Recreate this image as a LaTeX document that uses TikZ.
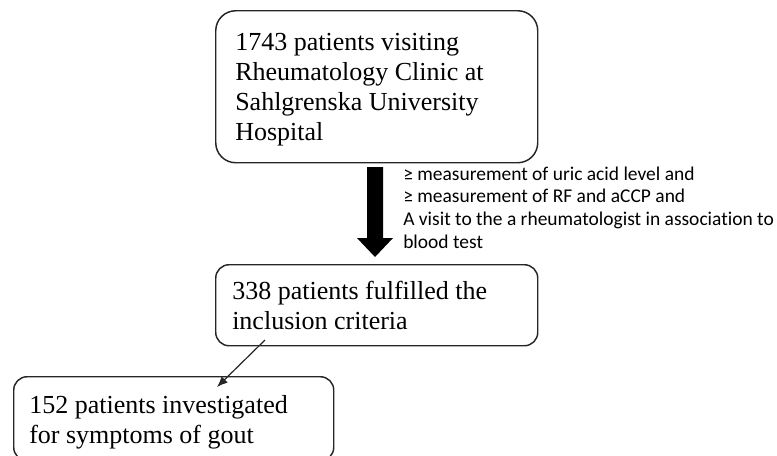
\documentclass[tikz,border=0pt]{standalone}
\usepackage{fontspec}
\setmainfont{Liberation Serif}
\newfontfamily\calibfont[Ligatures=NoCommon]{Carlito}
\usetikzlibrary{arrows.meta}
\begin{document}
\begin{tikzpicture}[x=0.75pt,y=-0.75pt,
  boxstyle/.style={draw=black!85, line width=1.1pt, rounded corners=#1, inner sep=0pt, anchor=north west},
  serif/.style={inner sep=0pt, anchor=base west, font=\fontsize{19.5}{22.5}\selectfont},
  sanstext/.style={inner sep=0pt, anchor=base west, font=\calibfont\fontsize{14.6}{17}\selectfont},
  thinarrow/.style={draw=black!85, line width=0.9pt, -{Latex[length=8pt,width=6.5pt]}}]
\useasboundingbox (0,0) rectangle (777,455);
% boxes
\node[boxstyle=15pt, minimum width=241.5pt, minimum height=114pt] (b1) at (215,10) {};
\node[boxstyle=10pt, minimum width=241.5pt, minimum height=60.75pt] (b2) at (215,264) {};
\node[boxstyle=10pt, minimum width=240pt, minimum height=63pt] (b3) at (13,376) {};
% texts
\node[serif] (t1) at (235,50) {\vtop{\hbox{1743 patients visiting}\hbox{Rheumatology Clinic at}\hbox{Sahlgrenska University}\hbox{Hospital}}};
\node[serif] (t2) at (232,299) {\vtop{\hbox{338 patients fulfilled the}\hbox{inclusion criteria}}};
\node[serif] (t3) at (29,413) {\vtop{\hbox{152 patients investigated}\hbox{for symptoms of gout}}};
\node[sanstext] (crit) at (403,180) {\vtop{\hbox{≥ measurement of uric acid level and}\hbox{≥ measurement of RF and aCCP and}\hbox{A visit to the a rheumatologist in association to}\hbox{blood test}}};
% block arrow
\fill[black] (367,167) -- (383,167) -- (383,238) -- (393,238) -- (375,257) -- (357,238) -- (367,238) -- cycle;
% thin arrow
\coordinate (a1) at (265,340);
\coordinate (a2) at (217,387);
\draw[thinarrow] (a1) -- (a2);
\end{tikzpicture}
\end{document}
